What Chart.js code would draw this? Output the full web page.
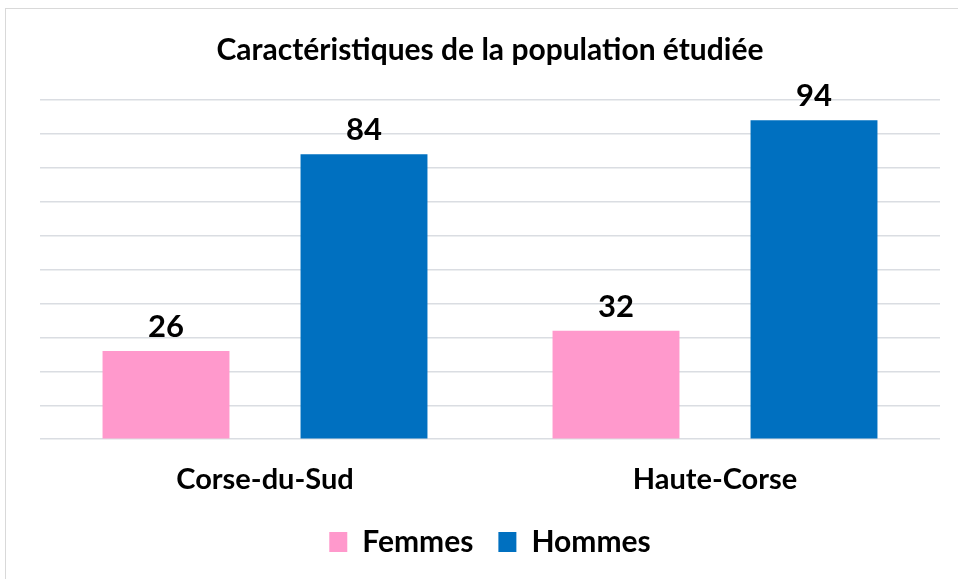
<!DOCTYPE html>
<html>
<head>
<meta charset="utf-8">
<script src="https://cdn.jsdelivr.net/npm/chart.js@4"></script>
<style>
  html, body { margin: 0; padding: 0; background: #fff; }
  #wrap { position: relative; width: 958px; height: 579px; overflow: hidden; }
  #frame { position: absolute; left: 5px; top: 8px; width: 1000px; height: 1000px;
           border: 1.5px solid #d9d9d9; box-sizing: border-box; }
  canvas { position: absolute; left: 0; top: 0; }
</style>
</head>
<body>
<div id="wrap">
  <div id="frame"></div>
  <canvas id="chart" width="958" height="579"></canvas>
</div>
<script>
// Données
var categories = ['Corse-du-Sud', 'Haute-Corse'];
var femmes = [26, 32];
var hommes = [84, 94];
var seriesNames = ['Femmes', 'Hommes'];

var police = "Lato, 'Liberation Sans', sans-serif";

// étiquettes de valeurs au-dessus des barres
var etiquettes = {
  id: 'etiquettes',
  afterDatasetsDraw: function(chart) {
    var ctx = chart.ctx;
    ctx.save();
    ctx.font = 'bold 31px ' + police;
    ctx.fillStyle = '#000';
    ctx.textAlign = 'center';
    ctx.textBaseline = 'alphabetic';
    chart.data.datasets.forEach(function(ds, i) {
      chart.getDatasetMeta(i).data.forEach(function(bar, j) {
        ctx.fillText(ds.data[j], bar.x, bar.y - 14);
      });
    });
    ctx.restore();
  }
};

var ctx = document.getElementById('chart').getContext('2d');
var chart = new Chart(ctx, {
  type: 'bar',
  data: {
    labels: categories,
    datasets: [
      { label: seriesNames[0], data: femmes, backgroundColor: '#ff99cc' },
      { label: seriesNames[1], data: hommes, backgroundColor: '#0070c0' }
    ]
  },
  options: {
    responsive: false,
    animation: false,
    categoryPercentage: 0.88,
    barPercentage: 0.641,
    layout: { padding: { left: 40, right: 18, top: 0, bottom: 12 } },
    plugins: {
      tooltip: { enabled: false },
      title: {
        display: true,
        text: 'Caractéristiques de la population étudiée',
        color: '#000',
        font: { family: police, size: 30, weight: 'bold' },
        padding: { top: 32, bottom: 32 }
      },
      legend: {
        position: 'bottom',
        labels: {
          color: '#000',
          font: { family: police, size: 30, weight: 'bold' },
          boxWidth: 18,
          boxHeight: 20,
          padding: 25
        }
      }
    },
    scales: {
      x: {
        grid: { display: false, drawTicks: false },
        border: { display: false },
        ticks: { color: '#000', font: { family: police, size: 29, weight: 'bold' }, padding: 23 },
        afterFit: function(scale) { scale.height -= 18; }
      },
      y: {
        min: 0,
        max: 100,
        ticks: { display: false, stepSize: 10 },
        border: { display: false },
        grid: { color: '#dadde2', lineWidth: 1.5, drawTicks: false }
      }
    }
  },
  plugins: [etiquettes]
});
</script>
</body>
</html>
